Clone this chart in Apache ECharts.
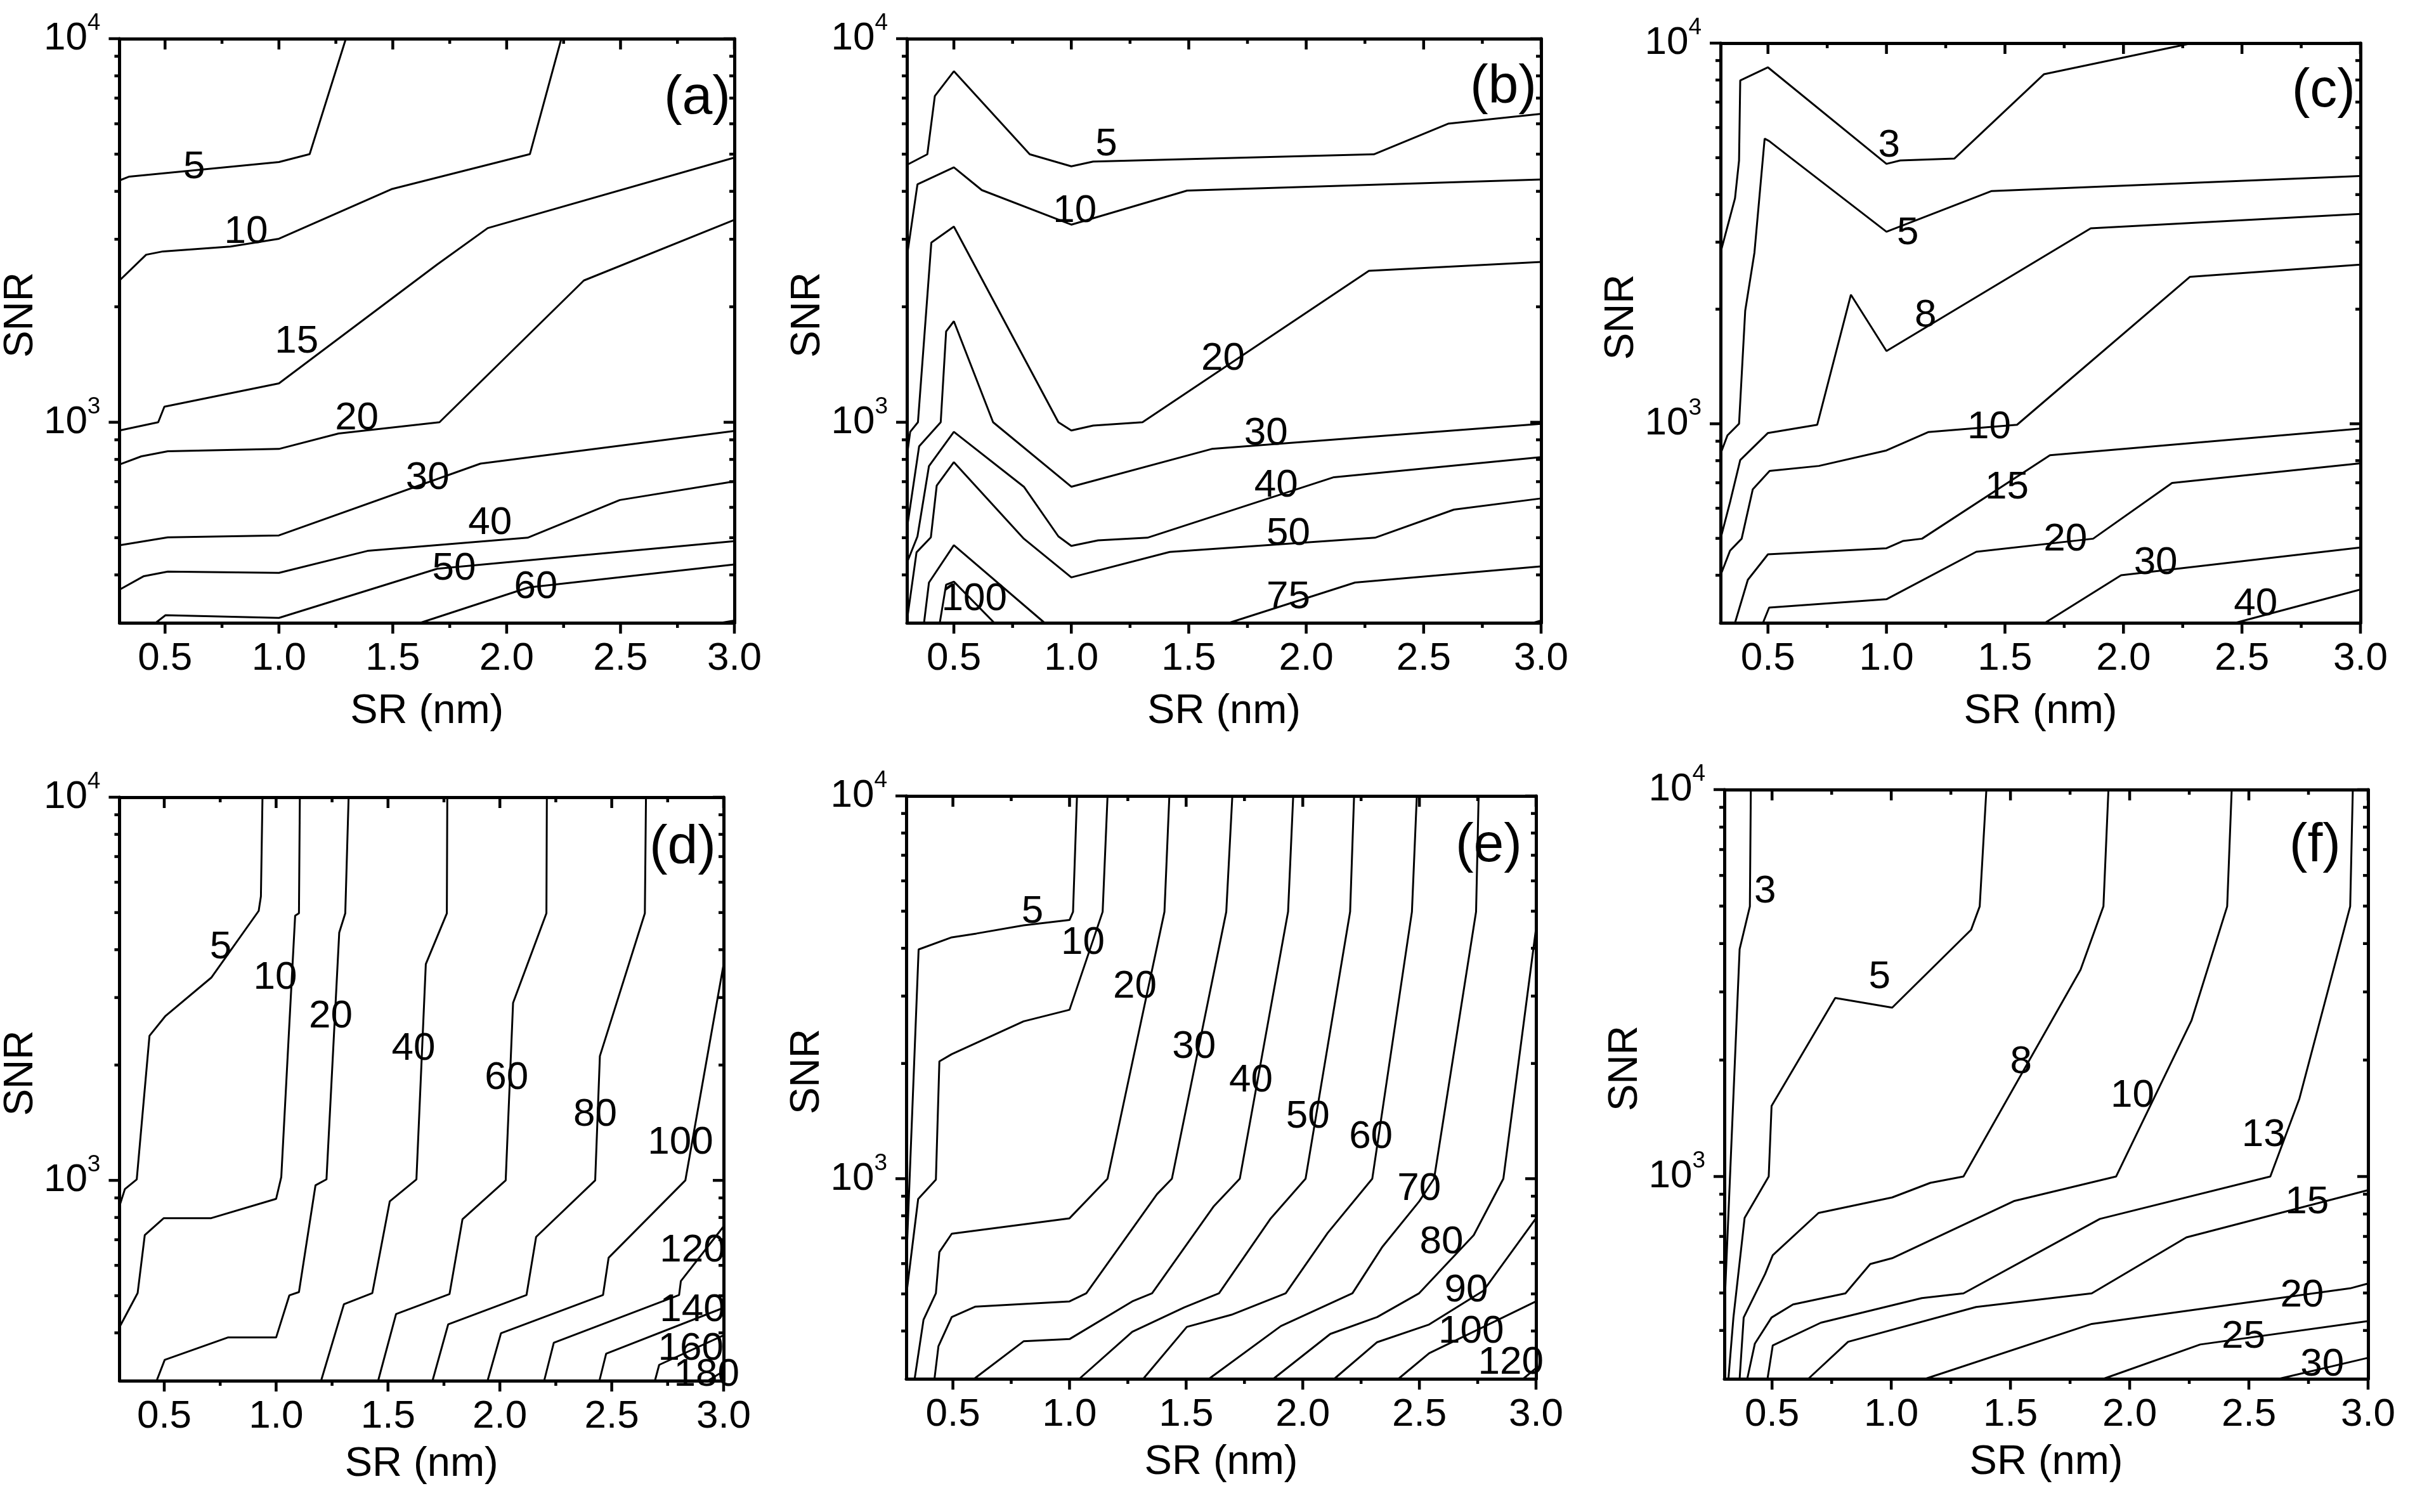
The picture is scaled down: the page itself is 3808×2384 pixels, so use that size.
<!DOCTYPE html>
<html><head><meta charset="utf-8">
<style>html,body{margin:0;padding:0;background:#fff}#c{width:3808px;height:2384px}</style>
<script src="https://cdn.jsdelivr.net/npm/echarts@6/dist/echarts.min.js"></script>
</head><body><div id="c"></div>
<script>
// ---- axis ranges and ticks ----
const X_MIN = 0.3, X_MAX = 3.0, Y_MIN = 300, Y_MAX = 10000;
const xMajorTicks = [0.5, 1.0, 1.5, 2.0, 2.5, 3.0];
const xMinorTicks = [0.75, 1.25, 1.75, 2.25, 2.75];
const yMajorTicks = [1000, 10000];
const yMinorTicks = [400, 500, 600, 700, 800, 900, 2000, 3000, 4000, 5000, 6000, 7000, 8000, 9000];
const panelTags = ['(a)', '(b)', '(c)', '(d)', '(e)', '(f)'];

// ---- panel (a) ----
const aLevels = [5, 10, 15, 20, 30, 40, 50, 60, 70];
const aLines = [
  [[0.3,4270],[0.343,4370],[1.0,4770],[1.135,5000],[1.294,10000]],
  [[0.3,2342],[0.417,2734],[0.491,2789],[0.787,2872],[1.0,3009],[1.494,4052],[2.102,5000],[2.24,10000]],
  [[0.3,952],[0.47,1000],[0.497,1098],[1.0,1263],[1.695,2579],[1.917,3208],[3.0,4897]],
  [[0.3,776],[0.396,815],[0.512,840],[1.0,852],[1.262,935],[1.705,1000],[2.339,2342],[3.0,3372]],
  [[0.3,478],[0.512,501],[1.0,507],[1.885,780],[3.0,949]],
  [[0.3,366],[0.407,397],[0.512,408],[1.0,405],[1.389,462],[2.092,500],[2.497,627],[3.0,701]],
  [[0.459,300],[0.502,314],[1.0,309],[1.695,415],[3.0,490]],
  [[1.621,300],[2.096,371],[3.0,426]],
  [[2.941,300],[3.0,304]]
];
const aLabels = [[0.628,4620,'5'],[0.856,3135,'10'],[1.078,1618,'15'],[1.342,1024,'20'],[1.653,715,'30'],[1.927,545,'40'],[1.769,415,'50'],[2.128,371,'60']];

// ---- panel (b) ----
const bLevels = [5, 10, 20, 30, 40, 50, 75, 75, 100, 100];
const bLines = [
  [[0.3,4688],[0.387,4996],[0.419,7090],[0.5,8226],[0.823,4996],[1.0,4647],[1.093,4783],[2.288,4996],[2.604,6003],[3.0,6366]],
  [[0.3,2695],[0.345,4172],[0.5,4620],[0.619,4029],[1.0,3275],[1.493,4017],[3.0,4295]],
  [[0.3,815],[0.314,944],[0.347,1000],[0.404,2940],[0.5,3237],[0.945,1000],[1.0,952],[1.093,980],[1.303,1000],[2.267,2483],[3.0,2617]],
  [[0.3,527],[0.352,865],[0.444,1000],[0.467,1725],[0.5,1834],[0.667,1000],[1.0,679],[1.598,852],[3.0,991]],
  [[0.3,430],[0.345,504],[0.394,769],[0.5,944],[0.798,679],[0.945,504],[1.0,476],[1.114,492],[1.324,500],[2.118,719],[3.0,811]],
  [[0.3,303],[0.341,458],[0.402,501],[0.427,684],[0.5,787],[0.798,497],[1.0,394],[1.419,459],[2.293,500],[2.629,592],[3.0,633]],
  [[0.373,300],[0.394,382],[0.5,478],[0.886,300]],
  [[1.672,300],[2.208,382],[3.0,421]],
  [[0.44,300],[0.467,377],[0.5,384],[0.672,300]],
  [[2.966,300],[3.0,304]]
];
const bLabels = [[1.149,5300,'5'],[1.015,3553,'10'],[1.646,1461,'20'],[1.829,935,'30'],[1.872,684,'40'],[1.924,512,'50'],[1.924,350,'75'],[0.587,345,'100']];

// ---- panel (c) ----
const cLevels = [3, 5, 8, 10, 15, 20, 30, 40];
const cLines = [
  [[0.3,2817],[0.361,3912],[0.378,4918],[0.383,7980],[0.5,8636],[1.0,4818],[1.058,4918],[1.287,4976],[1.665,8288],[2.29,10000]],
  [[0.3,834],[0.329,932],[0.378,1000],[0.404,1981],[0.443,2817],[0.486,5610],[0.505,5530],[0.597,4991],[1.0,3196],[1.444,4088],[3.0,4477]],
  [[0.3,499],[0.34,622],[0.383,803],[0.5,946],[0.708,994],[0.85,2183],[1.0,1553],[1.862,3262],[3.0,3561]],
  [[0.3,400],[0.34,464],[0.389,499],[0.436,673],[0.507,752],[0.715,775],[1.0,851],[1.176,951],[1.551,994],[2.28,2432],[3.0,2618]],
  [[0.361,300],[0.415,389],[0.5,454],[1.0,471],[1.069,492],[1.15,499],[1.69,827],[3.0,971]],
  [[0.479,300],[0.505,329],[1.0,346],[1.379,461],[1.872,499],[2.205,699],[3.0,787]],
  [[1.669,300],[1.99,400],[3.0,473]],
  [[2.473,300],[3.0,367]]
];
const cLabels = [[1.011,5370,'3'],[1.09,3168,'5'],[1.165,1923,'8'],[1.433,980,'10'],[1.508,679,'15'],[1.755,496,'20'],[2.136,431,'30'],[2.558,336,'40']];

// ---- panel (d) ----
const dLevels = [5, 10, 20, 40, 60, 80, 100, 120, 140, 160, 180];
const dLines = [
  [[0.3,857],[0.324,949],[0.377,1006],[0.434,2385],[0.504,2680],[0.71,3381],[0.922,5050],[0.932,5511],[0.939,10000]],
  [[0.3,414],[0.381,508],[0.413,720],[0.498,797],[0.71,797],[1.0,895],[1.023,1020],[1.055,2303],[1.085,4906],[1.102,4977],[1.106,10000]],
  [[0.466,300],[0.502,340],[0.784,389],[1.0,389],[1.059,501],[1.102,511],[1.176,971],[1.225,1006],[1.282,4431],[1.309,4977],[1.324,10000]],
  [[1.201,300],[1.303,475],[1.43,508],[1.508,882],[1.627,1006],[1.669,3668],[1.763,4977],[1.765,10000]],
  [[1.456,300],[1.536,448],[1.775,505],[1.833,792],[2.026,1000],[2.059,2906],[2.208,4977],[2.21,10000]],
  [[1.699,300],[1.769,421],[2.119,502],[2.162,712],[2.426,1000],[2.447,2111],[2.648,4977],[2.653,10000]],
  [[1.945,300],[2.005,399],[2.461,502],[2.486,628],[2.829,1000],[3.0,3668]],
  [[2.198,300],[2.241,377],[2.801,502],[2.809,546],[2.992,748],[3.0,760]],
  [[2.445,300],[2.475,353],[3.0,465]],
  [[2.693,300],[2.712,330],[3.0,394]],
  [[2.93,300],[3.0,318]]
];
const dLabels = [[0.752,4060,'5'],[0.996,3381,'10'],[1.244,2680,'20'],[1.614,2205,'40'],[2.03,1852,'60'],[2.426,1481,'80'],[2.807,1251,'100'],[2.861,655,'120'],[2.861,459,'140'],[2.853,363,'160'],[2.924,310,'180']];

// ---- panel (e) ----
const eLevels = [5, 10, 20, 30, 40, 50, 60, 70, 80, 90, 100, 120];
const eLines = [
  [[0.3,598],[0.353,3972],[0.495,4271],[0.601,4371],[0.803,4592],[1.0,4742],[1.015,4982],[1.032,10000]],
  [[0.3,495],[0.351,885],[0.427,994],[0.442,2025],[0.495,2115],[0.803,2577],[1.0,2763],[1.142,4982],[1.163,10000]],
  [[0.336,300],[0.374,428],[0.427,502],[0.442,643],[0.495,718],[1.0,788],[1.163,1000],[1.407,4982],[1.428,10000]],
  [[0.421,300],[0.438,365],[0.495,435],[0.595,463],[1.0,478],[1.072,502],[1.375,911],[1.439,1000],[1.672,4982],[1.698,10000]],
  [[0.591,300],[0.803,376],[1.0,381],[1.269,478],[1.354,502],[1.619,848],[1.73,1000],[1.937,4982],[1.959,10000]],
  [[1.042,300],[1.269,398],[1.492,461],[1.641,502],[1.863,788],[2.012,1000],[2.203,4982],[2.22,10000]],
  [[1.316,300],[1.503,410],[1.694,441],[1.927,502],[2.107,722],[2.298,1000],[2.468,4982],[2.489,10000]],
  [[1.598,300],[1.906,412],[2.213,502],[2.34,662],[2.499,872],[2.563,1000],[2.743,4982],[2.754,10000]],
  [[1.874,300],[2.118,393],[2.319,435],[2.499,502],[2.733,712],[2.86,1000],[3.0,4500]],
  [[2.135,300],[2.319,374],[2.542,416],[2.775,510],[3.0,788]],
  [[2.41,300],[2.542,350],[2.775,410],[3.0,478]],
  [[2.945,300],[3.0,320]]
];
const eLabels = [[0.841,4980,'5'],[1.057,4125,'10'],[1.28,3176,'20'],[1.534,2210,'30'],[1.778,1803,'40'],[2.022,1450,'50'],[2.292,1283,'60'],[2.499,938,'70'],[2.595,681,'80'],[2.701,510,'90'],[2.722,398,'100'],[2.892,330,'120']];

// ---- panel (f) ----
const fLevels = [3, 5, 8, 10, 13, 15, 20, 25, 30];
const fLines = [
  [[0.3,451],[0.364,3868],[0.407,4991],[0.411,10000]],
  [[0.317,300],[0.338,432],[0.385,782],[0.486,1000],[0.498,1522],[0.765,2894],[1.004,2732],[1.335,4342],[1.371,4991],[1.399,10000]],
  [[0.364,300],[0.381,432],[0.471,560],[0.503,626],[0.695,805],[1.004,883],[1.164,963],[1.303,1000],[1.794,3424],[1.89,4991],[1.911,10000]],
  [[0.396,300],[0.428,370],[0.498,432],[0.588,467],[0.808,499],[0.912,594],[1.004,615],[1.517,865],[1.943,1000],[2.259,2527],[2.409,4991],[2.428,10000]],
  [[0.481,300],[0.503,366],[0.705,419],[1.128,485],[1.303,499],[1.875,777],[2.59,1000],[2.712,1590],[2.925,4991],[2.936,10000]],
  [[0.652,300],[0.819,374],[1.356,460],[1.841,499],[2.238,696],[3.0,922]],
  [[1.143,300],[1.841,416],[2.925,514],[3.0,529]],
  [[1.89,300],[2.296,368],[3.0,423]],
  [[2.626,300],[3.0,340]]
];
const fLabels = [[0.471,5443,'3'],[0.951,3279,'5'],[1.544,1975,'8'],[2.012,1613,'10'],[2.562,1279,'13'],[2.744,858,'15'],[2.723,492,'20'],[2.477,385,'25'],[2.808,326,'30']];

// ---- layout ----
const FONT = '"Liberation Sans", Arial, sans-serif';
const gridBoxes = [
  {left:165, top:61, width:993, height:921},
  {left:1430, top:61, width:1000, height:921},
  {left:2713, top:68, width:1009, height:914},
  {left:148, top:1257, width:993, height:920},
  {left:1429, top:1255, width:993, height:919},
  {left:2719, top:1245, width:1015, height:929}
];
const tagBoxes = [
  {right:2656, top:112}, {right:1385, top:95}, {right:94, top:101},
  {right:2679, top:1294}, {right:1408, top:1291}, {right:117, top:1291}
];
const allLines = [aLines, bLines, cLines, dLines, eLines, fLines];
const allLevels = [aLevels, bLevels, cLevels, dLevels, eLevels, fLevels];
const allLabels = [aLabels, bLabels, cLabels, dLabels, eLabels, fLabels];

const BLACK = '#000';
const TICK_W = 4.5;

function yTickItem(params, api) {
  const cs = params.coordSys;
  const y = api.coord([api.value(0), api.value(1)])[1];
  const len = api.value(2);
  const st = {stroke: BLACK, lineWidth: TICK_W};
  return {type:'group', children:[
    {type:'line', shape:{x1:cs.x - len, y1:y, x2:cs.x, y2:y}, style:st},
    {type:'line', shape:{x1:cs.x + cs.width - len, y1:y, x2:cs.x + cs.width, y2:y}, style:st}
  ]};
}
function xTickItem(params, api) {
  const cs = params.coordSys;
  const x = api.coord([api.value(0), api.value(1)])[0];
  const len = api.value(2);
  const st = {stroke: BLACK, lineWidth: TICK_W};
  const b = cs.y + cs.height;
  return {type:'group', children:[
    {type:'line', shape:{x1:x, y1:b, x2:x, y2:b + len}, style:st},
    {type:'line', shape:{x1:x, y1:cs.y, x2:x, y2:cs.y + len}, style:st}
  ]};
}

const grid = [], xAxis = [], yAxis = [], series = [], title = [];
const axisLineStyle = {show:true, onZero:false, lineStyle:{color:BLACK, width:5}};

gridBoxes.forEach((g, i) => {
  grid.push(Object.assign({containLabel:false}, g));
  const xNameGap = i < 3 ? 108 : 100;
  xAxis.push({
    type:'value', gridIndex:i, min:X_MIN, max:X_MAX, interval:0.1, position:'bottom',
    axisLine:axisLineStyle, axisTick:{show:false}, splitLine:{show:false},
    axisLabel:{show:true, margin:26, color:BLACK, fontSize:62, fontFamily:FONT,
      formatter: v => (Math.round(v * 10) % 5 === 0 ? v.toFixed(1) : '')},
    name:'SR (nm)', nameLocation:'middle', nameGap:xNameGap,
    nameTextStyle:{color:BLACK, fontSize:65, fontFamily:FONT}
  });
  xAxis.push({
    type:'value', gridIndex:i, min:X_MIN, max:X_MAX, interval:0.1, position:'top',
    axisLine:axisLineStyle, axisTick:{show:false}, splitLine:{show:false}, axisLabel:{show:false}
  });
  yAxis.push({
    type:'log', logBase:10, gridIndex:i, min:Y_MIN, max:Y_MAX, position:'left',
    axisLine:axisLineStyle, axisTick:{show:false}, splitLine:{show:false}, minorTick:{show:false},
    axisLabel:{show:true, margin:30, color:BLACK, fontFamily:FONT,
      formatter: v => (Math.abs(v - 1000) < 1 ? '{b|10}{s|3}' : (Math.abs(v - 10000) < 1 ? '{b|10}{s|4}' : '')),
      rich:{
        b:{fontSize:62, lineHeight:62, fontFamily:FONT, color:BLACK},
        s:{fontSize:37, lineHeight:37, fontFamily:FONT, color:BLACK, padding:[0,0,48,0]}
      }},
    name:'SNR', nameLocation:'middle', nameGap:64,
    nameTextStyle:{color:BLACK, fontSize:64, fontFamily:FONT, padding:[0,0,0,50]}
  });
  yAxis.push({
    type:'log', logBase:10, gridIndex:i, min:Y_MIN, max:Y_MAX, position:'right',
    axisLine:axisLineStyle, axisTick:{show:false}, splitLine:{show:false}, axisLabel:{show:false}
  });

  const xi = 2 * i, yi = 2 * i;
  allLines[i].forEach((pts, k) => {
    series.push({
      type:'line', name:'level ' + allLevels[i][k], xAxisIndex:xi, yAxisIndex:yi,
      data:pts, showSymbol:false, symbol:'none', silent:true, z:2,
      lineStyle:{color:BLACK, width:3}
    });
  });
  series.push({
    type:'scatter', xAxisIndex:xi, yAxisIndex:yi, symbol:'circle', symbolSize:2, silent:true, z:4,
    itemStyle:{color:'rgba(0,0,0,0)'},
    data: allLabels[i].map(l => ({value:[l[0], l[1]], name:l[2]})),
    label:{show:true, position:'inside', formatter:'{b}', color:BLACK, opacity:1, fontSize:62, fontFamily:FONT}
  });
  series.push({
    type:'custom', coordinateSystem:'cartesian2d', xAxisIndex:xi, yAxisIndex:yi, clip:false, silent:true, z:6,
    encode:{x:0, y:1},
    data: yMajorTicks.map(v => [X_MIN, v, 17]).concat(yMinorTicks.map(v => [X_MIN, v, 8])),
    renderItem: yTickItem
  });
  series.push({
    type:'custom', coordinateSystem:'cartesian2d', xAxisIndex:xi, yAxisIndex:yi, clip:false, silent:true, z:6,
    encode:{x:0, y:1},
    data: xMajorTicks.map(v => [v, Y_MIN, 17]).concat(xMinorTicks.map(v => [v, Y_MIN, 8])),
    renderItem: xTickItem
  });
  title.push(Object.assign({text:panelTags[i], padding:0,
    textStyle:{color:BLACK, fontSize:86, fontWeight:'normal', fontFamily:FONT}}, tagBoxes[i]));
});

const chart = echarts.init(document.getElementById('c'), null, {renderer:'canvas', width:3808, height:2384});
chart.setOption({
  animation:false,
  backgroundColor:'#fff',
  textStyle:{fontFamily:FONT},
  title, grid, xAxis, yAxis, series
});
</script></body></html>
